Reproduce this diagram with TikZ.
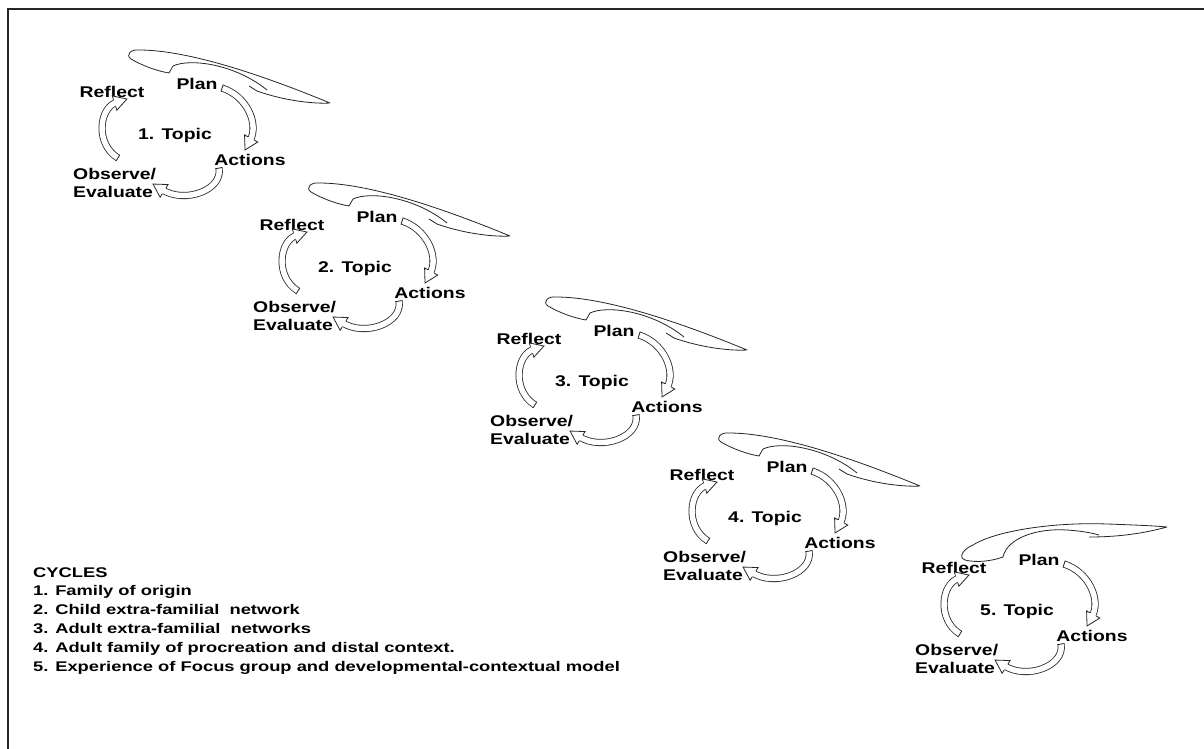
\documentclass[tikz,border=0pt]{standalone}
\usepackage{fontspec}
\setmainfont{Liberation Sans}
\newfontfamily\lblfont[FakeStretch=1.25]{Liberation Sans Bold}
\newfontfamily\lgdfont[FakeStretch=1.31]{Liberation Sans Bold}
\usetikzlibrary{decorations.markings}

\tikzset{
  lbl/.style={font=\lblfont\fontsize{15.5}{17}\selectfont, inner sep=0pt, anchor=base},
  lblw/.style={lbl, anchor=base west},
  lgd/.style={font=\lgdfont\fontsize{14}{16}\selectfont, inner sep=0pt, anchor=base west},
  ribbon/.style={draw=black!85, line width=0.8pt, double=white, double distance=5.5pt},
  swoosh/.style={draw=black!85, line width=0.8pt, fill=white, line join=round},
  frameline/.style={draw=black!85, line width=2pt},
}

\newcommand\arrowhd{%
  \fill[white] (-13pt,-7.5pt) -- (0pt,0pt) -- (-13pt,7.5pt) -- cycle;
  \draw[black!85, line width=0.8pt, line join=miter] (-13pt,-3.55pt) -- (-13pt,-7.5pt) -- (0pt,0pt) -- (-13pt,7.5pt) -- (-13pt,3.55pt);}
\newcommand\tailcp{\draw[black!85, line width=0.8pt] (0pt,-3.55pt) -- (0pt,3.55pt);}

\newcommand\blockarc[1]{%
  \draw[ribbon, shorten >=11pt] #1;
  \path[decorate, decoration={markings,
      mark=at position 0.999 with {\arrowhd},
      mark=at position 0.001 with {\tailcp}}] #1;
}

% cycle: #1 id, #2 x px, #3 y px (down), #4 number
\newcommand\cyclefig[4]{%
  \begin{scope}[shift={(#2,-#3)}]
    \node[lbl]  (plan#1)  at (22,44.5)   {Plan};
    \node[lbl]  (refl#1)  at (-63,36.5)  {Reflect};
    \node[lbl]  (topic#1) at (0,-5.5)    {#4. Topic};
    \node[lbl]  (act#1)   at (75,-31.5)  {Actions};
    \node[lblw] (obs#1)   at (-102,-45.5) {Observe/};
    \node[lblw] (eva#1)   at (-102,-63.5) {Evaluate};
    \blockarc{(47,46) .. controls (72,38) and (84,10) .. (70,-16)}
    \blockarc{(44,-34) .. controls (48,-56) and (10,-70) .. (-22,-50)}
    \blockarc{(-57,-24) .. controls (-80,-10) and (-76,26) .. (-48,35)}
  \end{scope}
}

\newcommand\swooshA[2]{%
  \begin{scope}[shift={(#1,-#2)}]
    \draw[swoosh] (-2,68) -- (-6,61) .. controls (-18,63) and (-32,68) .. (-44,75)
      .. controls (-50,79) and (-44,85) .. (-36,84)
      .. controls (10,84) and (80,62) .. (155,31)
      .. controls (140,30) and (110,33) .. (82,43) -- (74,48);
    \draw[swoosh, fill=none] (-2,68) .. controls (15,76) and (60,70) .. (92,44);
  \end{scope}
}

\begin{document}
\begin{tikzpicture}[x=1pt, y=1pt]
  \useasboundingbox (0,0) rectangle (1204,-749);
  \fill[white] (0,0) rectangle (1204,-749);
  \draw[frameline] (7.5,-749) -- (7.5,-9.5) -- (1204,-9.5);

  \swooshA{175}{134}
  \swooshA{355}{267}
  \swooshA{592}{381}
  \swooshA{765}{517}
  % cycle 5 swoosh
  \begin{scope}[shift={(1017,-610)}]
    \draw[swoosh] (-14,53) .. controls (-25,49) and (-40,47) .. (-52,50)
      .. controls (-60,53) and (-52,62) .. (-44,65)
      .. controls (-20,80) and (40,88) .. (90,86)
      .. controls (120,85) and (140,84) .. (150,83)
      .. controls (135,79) and (110,73) .. (72,73);
    \draw[swoosh, fill=none] (-14,53) .. controls (-10,72) and (20,82) .. (50,80)
      .. controls (65,79) and (75,77) .. (82,75);
  \end{scope}

  \cyclefig{1}{175}{134}{1}
  \cyclefig{2}{355}{267}{2}
  \cyclefig{3}{592}{381}{3}
  \cyclefig{4}{765}{517}{4}
  \cyclefig{5}{1017}{610}{5}

  \node[lgd] (lg0) at (33,-577)   {CYCLES};
  \node[lgd] (lg1) at (33,-595.8) {1. Family of origin};
  \node[lgd] (lg2) at (33,-614.6) {2. Child extra-familial~ network};
  \node[lgd] (lg3) at (33,-633.4) {3. Adult extra-familial~ networks};
  \node[lgd] (lg4) at (33,-652.2) {4. Adult family of procreation and distal context.};
  \node[lgd] (lg5) at (33,-671)   {5. Experience of Focus group and developmental-contextual model};
\end{tikzpicture}
\end{document}
